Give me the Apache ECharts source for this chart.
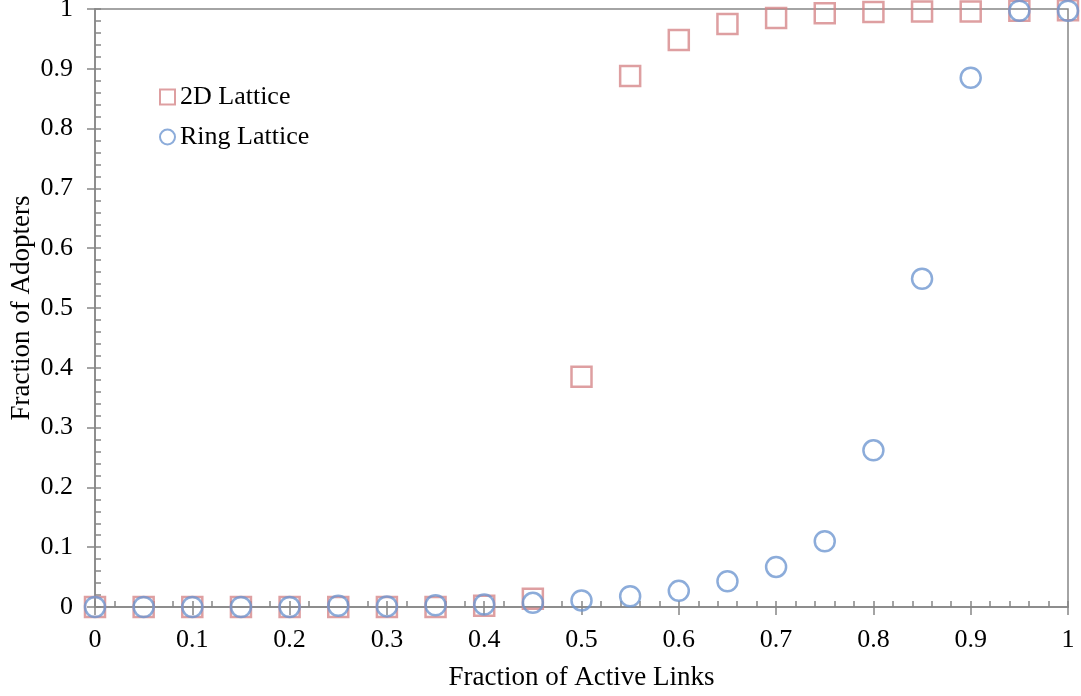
<!DOCTYPE html>
<html>
<head>
<meta charset="utf-8">
<script src="https://cdn.jsdelivr.net/npm/echarts@6/dist/echarts.min.js"></script>
<style>html,body{margin:0;padding:0;background:#fff;}#c{width:1081px;height:696px;}</style>
</head>
<body>
<div id="c"></div>
<script>
const xValues = [0,0.05,0.1,0.15,0.2,0.25,0.3,0.35,0.4,0.45,0.5,0.55,0.6,0.65,0.7,0.75,0.8,0.85,0.9,0.95,1];
const lattice2D = [0,0,0,0,0,0,0,0,0.002,0.014,0.385,0.888,0.948,0.975,0.985,0.993,0.995,0.996,0.996,0.997,0.998];
const ringLattice = [0,0,0,0,0,0.002,0.001,0.003,0.004,0.007,0.011,0.018,0.027,0.043,0.067,0.110,0.262,0.549,0.885,0.997,0.997];
const seriesNames = ['2D Lattice','Ring Lattice'];
const xTitle = 'Fraction of Active Links';
const yTitle = 'Fraction of Adopters';

const FONT = '"Liberation Serif", "Times New Roman", serif';
const AX = '#878787';
const chart = echarts.init(document.getElementById('c'), null, {renderer:'canvas'});
const pairs = a => xValues.map((x,i)=>[x,a[i]]);
const baseAxis = {
  type:'value', min:0, max:1, interval:0.1,
  axisLine:{show:true, lineStyle:{color:AX, width:1.5}},
  axisTick:{show:true, inside:false, length:8, lineStyle:{color:AX, width:1.5}},
  splitLine:{show:false},
  axisLabel:{color:'#000', fontFamily:FONT, fontSize:26},
};
const minorAxis = {
  type:'value', min:0, max:1, interval:0.02,
  axisLine:{show:false},
  axisTick:{show:true, inside:true, length:6, lineStyle:{color:AX, width:1.5}},
  axisLabel:{show:false}, splitLine:{show:false}
};
chart.setOption({
  animation:false,
  grid:{left:95, right:13, top:9, bottom:89, containLabel:false, outerBoundsMode:'none',
        show:true, borderColor:AX, borderWidth:1.5, backgroundColor:'transparent'},
  legend:{
    left:159, top:84, padding:0, orient:'vertical', itemGap:14, itemWidth:15, itemHeight:15,
    textStyle:{color:'#000', fontFamily:FONT, fontSize:26},
    data:seriesNames
  },
  xAxis:[
    Object.assign({}, baseAxis, {position:'bottom', name:xTitle, nameLocation:'middle', nameGap:57,
      nameMoveOverlap:false,
      nameTextStyle:{color:'#000', fontFamily:FONT, fontSize:27},
      axisLabel:Object.assign({}, baseAxis.axisLabel, {margin:20})}),
    Object.assign({}, minorAxis, {position:'bottom'})
  ],
  yAxis:[
    Object.assign({}, baseAxis, {position:'left', name:yTitle, nameLocation:'middle', nameGap:60,
      nameMoveOverlap:false,
      nameTextStyle:{color:'#000', fontFamily:FONT, fontSize:27},
      axisLabel:Object.assign({}, baseAxis.axisLabel, {margin:22})}),
    Object.assign({}, minorAxis, {position:'left'})
  ],
  series:[
    {name:seriesNames[0], type:'scatter', xAxisIndex:0, yAxisIndex:0, clip:false,
     symbol:'rect', symbolSize:20, data:pairs(lattice2D),
     itemStyle:{color:'rgba(255,255,255,0)', borderColor:'#d6878a', borderWidth:2.5}},
    {name:seriesNames[1], type:'scatter', xAxisIndex:0, yAxisIndex:0, clip:false,
     symbol:'circle', symbolSize:20, data:pairs(ringLattice),
     itemStyle:{color:'rgba(255,255,255,0)', borderColor:'#6f97d1', borderWidth:2.5}}
  ]
});
</script>
</body>
</html>
